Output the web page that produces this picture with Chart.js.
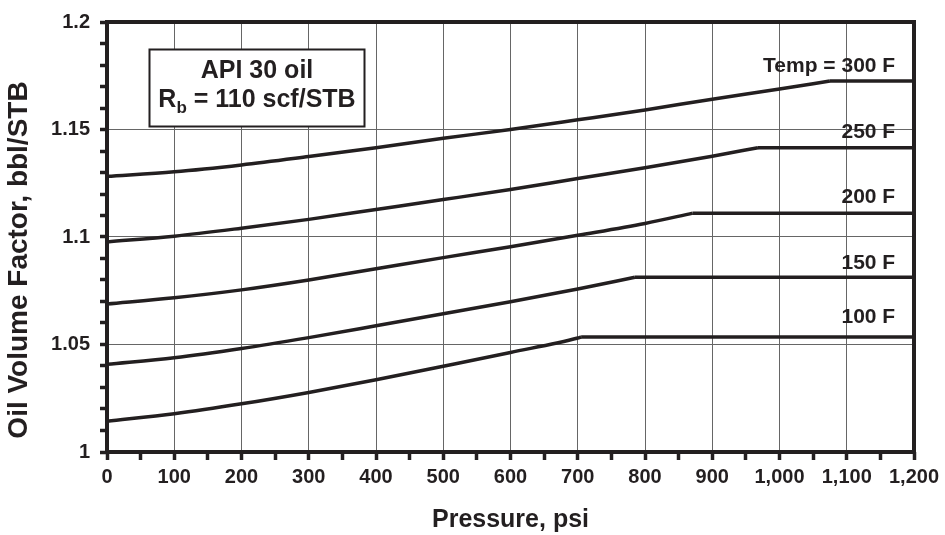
<!DOCTYPE html>
<html>
<head>
<meta charset="utf-8">
<script src="https://cdn.jsdelivr.net/npm/chart.js@4.4.0/dist/chart.umd.min.js"></script>
<style>
  html, body { margin: 0; padding: 0; background: #fff; }
  #wrap { width: 945px; height: 535px; }
</style>
</head>
<body>
<div id="wrap"><canvas id="boChart" width="945" height="535"></canvas></div>
<script>
// Oil formation volume factor vs pressure, one curve per temperature
// values at every 100 psi plus the bubble-point kink
const p300 = [0, 100, 200, 300, 400, 500, 600, 700, 800, 900, 1000, 1075, 1200];
const bo300 = [1.1282, 1.1303, 1.1335, 1.1374, 1.1415, 1.1459, 1.1500, 1.1545, 1.1591, 1.1641, 1.1688, 1.1726, 1.1726];

const p250 = [0, 100, 200, 300, 400, 500, 600, 700, 800, 900, 968, 1200];
const bo250 = [1.0977, 1.1004, 1.1041, 1.1082, 1.1128, 1.1174, 1.1221, 1.1272, 1.1322, 1.1376, 1.1415, 1.1415];

const p200 = [0, 100, 200, 300, 400, 500, 600, 700, 800, 871, 1200];
const bo200 = [1.0688, 1.0717, 1.0754, 1.0800, 1.0852, 1.0904, 1.0955, 1.1008, 1.1063, 1.1111, 1.1111];

const p150 = [0, 100, 200, 300, 400, 500, 600, 700, 785, 1200];
const bo150 = [1.0408, 1.0438, 1.0481, 1.0532, 1.0587, 1.0643, 1.0699, 1.0758, 1.0813, 1.0813];

const p100 = [0, 100, 200, 300, 400, 500, 600, 700, 705, 1200];
const bo100 = [1.0143, 1.0178, 1.0224, 1.0277, 1.0336, 1.0399, 1.0463, 1.0530, 1.0535, 1.0535];

const curveNames = ['Temp = 300 F', '250 F', '200 F', '150 F', '100 F'];
const curveNameY = [1.1793, 1.1488, 1.1187, 1.0877, 1.0627];

const noteTitle = 'API 30 oil';
const noteRb = ['R', 'b', ' = 110 scf/STB'];

const xTitle = 'Pressure, psi';
const yTitle = 'Oil Volume Factor, bbl/STB';

const INK = '#231f20';
const GRID = '#666666';
const FONT = '"Liberation Sans", Arial, Helvetica, sans-serif';

Chart.defaults.font.family = FONT;
Chart.defaults.color = INK;

function toPoints(xs, ys) {
    return xs.map((x, i) => ({ x: x, y: ys[i] }));
}

const series = [
    [p300, bo300], [p250, bo250], [p200, bo200], [p150, bo150], [p100, bo100]
];

// each curve = smooth rising part up to the kink + flat part after it
const datasets = [];
series.forEach((s, i) => {
    const pts = toPoints(s[0], s[1]);
    const kink = pts.length - 2;
    const base = { borderColor: INK, borderWidth: 3.5, pointRadius: 0, fill: false };
    datasets.push(Object.assign({ label: curveNames[i], data: pts.slice(0, kink + 1), cubicInterpolationMode: 'monotone' }, base));
    datasets.push(Object.assign({ label: curveNames[i] + ' flat', data: pts.slice(kink), tension: 0 }, base));
});

// note box, curve names, frame and rotated y title
const annotate = {
    id: 'annotate',
    beforeDatasetsDraw(chart) {
        const { ctx, scales: { x, y } } = chart;
        const left = Math.round(x.getPixelForValue(63)) + 0.5;
        const right = Math.round(x.getPixelForValue(382)) + 0.5;
        const top = Math.round(y.getPixelForValue(1.1876)) + 0.5;
        const bottom = Math.round(y.getPixelForValue(1.1515)) + 0.5;
        ctx.save();
        ctx.fillStyle = '#fff';
        ctx.fillRect(left, top, right - left, bottom - top);
        ctx.lineWidth = 2;
        ctx.strokeStyle = INK;
        ctx.strokeRect(left, top, right - left, bottom - top);

        const cx = (left + right) / 2;
        ctx.fillStyle = INK;
        ctx.textBaseline = 'middle';
        ctx.textAlign = 'center';
        ctx.font = 'bold 25px ' + FONT;
        ctx.fillText(noteTitle, cx, top + 22);

        // second line: R with subscript b
        const big = 'bold 25px ' + FONT, small = 'bold 17px ' + FONT;
        ctx.font = big;
        const wR = ctx.measureText(noteRb[0]).width;
        const wRest = ctx.measureText(noteRb[2]).width;
        ctx.font = small;
        const wb = ctx.measureText(noteRb[1]).width;
        let sx = cx - (wR + wb + wRest) / 2;
        const ly = top + 51;
        ctx.textAlign = 'left';
        ctx.font = big;
        ctx.fillText(noteRb[0], sx, ly);
        sx += wR;
        ctx.font = small;
        ctx.fillText(noteRb[1], sx, ly + 8);
        sx += wb;
        ctx.font = big;
        ctx.fillText(noteRb[2], sx, ly);
        ctx.restore();
    },
    afterDatasetsDraw(chart) {
        const { ctx, chartArea: a, scales: { x, y } } = chart;
        ctx.save();
        ctx.fillStyle = INK;
        ctx.font = 'bold 21px ' + FONT;
        ctx.textAlign = 'right';
        ctx.textBaseline = 'middle';
        curveNames.forEach((name, i) => {
            ctx.fillText(name, x.getPixelForValue(1172), y.getPixelForValue(curveNameY[i]));
        });

        ctx.lineWidth = 4;
        ctx.strokeStyle = INK;
        ctx.strokeRect(a.left, a.top, a.right - a.left, a.bottom - a.top);

        ctx.translate(19, 260);
        ctx.rotate(-Math.PI / 2);
        ctx.textAlign = 'center';
        ctx.font = 'bold 28px ' + FONT;
        ctx.fillText(yTitle, 0, 0);
        ctx.restore();
    }
};

new Chart(document.getElementById('boChart').getContext('2d'), {
    type: 'line',
    data: { datasets: datasets },
    options: {
        responsive: false,
        animation: false,
        layout: { padding: { top: 19, right: 31, bottom: 0, left: 0 } },
        plugins: {
            legend: { display: false },
            tooltip: { enabled: false }
        },
        scales: {
            x: {
                type: 'linear',
                min: 0,
                max: 1200,
                afterFit(scale) { scale.height = 83; },
                border: { display: false },
                grid: {
                    color: c => (c.tick && c.tick.value % 100 === 0) ? GRID : 'transparent',
                    lineWidth: 1,
                    tickColor: INK,
                    tickWidth: 3.5,
                    tickLength: 8
                },
                ticks: {
                    stepSize: 50,
                    autoSkip: false,
                    maxRotation: 0,
                    minRotation: 0,
                    padding: 5,
                    color: INK,
                    font: { size: 20, weight: 'bold' },
                    callback: v => v % 100 === 0 ? v.toLocaleString('en-US') : ''
                },
                title: {
                    display: true,
                    text: xTitle,
                    color: INK,
                    font: { size: 25, weight: 'bold', lineHeight: 1 },
                    padding: { top: 0, bottom: 2 }
                }
            },
            y: {
                min: 1,
                max: 1.2,
                afterFit(scale) { scale.width = 107; },
                border: { display: false },
                grid: {
                    color: c => (c.tick && Math.round(c.tick.value * 100) % 5 === 0) ? GRID : 'transparent',
                    lineWidth: 1,
                    tickColor: INK,
                    tickWidth: 3.5,
                    tickLength: 7
                },
                ticks: {
                    stepSize: 0.01,
                    autoSkip: false,
                    padding: 10,
                    color: INK,
                    font: { size: 20, weight: 'bold' },
                    callback: v => {
                        const r = Math.round(v * 100);
                        return r % 5 === 0 ? String(r / 100) : '';
                    }
                }
            }
        }
    },
    plugins: [annotate]
});
</script>
</body>
</html>
